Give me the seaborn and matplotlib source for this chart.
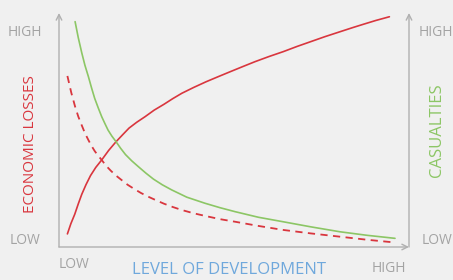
import matplotlib
matplotlib.use("Agg")
import matplotlib.pyplot as plt
import seaborn as sns

# values, axes run 0..100 on both scales
losses_x = [2.4, 3.4, 4.5, 5.5, 6.5, 7.7, 9.0, 10.5, 12.2, 14.2, 16.3, 18.2, 20.0, 22.2, 24.6, 27.2, 30.0, 32.5, 35.1,
            38.5, 42.0, 45.5, 48.9, 52.5, 56.0, 60.0, 64.1, 68.0, 72.0, 76.0, 80.3, 84.0, 87.0, 90.5, 94.4]
losses_y = [5.6, 10.0, 14.0, 18.4, 22.5, 26.6, 30.5, 34.0, 37.2, 41.3, 45.0, 48.0, 50.8, 53.3, 55.7, 58.5, 61.0, 63.4, 65.7,
            68.2, 70.6, 72.8, 74.9, 77.1, 79.2, 81.4, 83.5, 85.7, 87.8, 89.9, 92.0, 93.8, 95.2, 96.8, 98.4]

casualties_x = [4.6, 5.5, 6.5, 7.4, 8.4, 9.3, 10.2, 11.2, 12.2, 13.1, 14.0, 15.1, 16.3, 17.6, 19.0, 20.8, 22.7, 24.8,
                27.0, 29.5, 32.2, 36.5, 41.7, 46.0, 50.3, 57.0, 64.0, 72.0, 80.3, 88.0, 96.0]
casualties_y = [96.3, 89.5, 83.0, 77.7, 72.8, 68.0, 63.5, 59.5, 55.7, 52.8, 50.0, 47.4, 45.0, 42.2, 39.5, 36.8, 34.3, 31.6,
                29.0, 26.6, 24.4, 21.3, 18.7, 16.8, 15.1, 12.7, 10.8, 8.6, 6.5, 5.0, 3.7]

dashed_x = [2.4, 3.5, 4.6, 5.5, 6.5, 7.4, 8.4, 9.3, 10.2, 11.2, 12.2, 13.4, 14.8, 16.3, 17.9, 19.6, 21.5, 23.4, 25.5,
            27.7, 30.0, 32.5, 35.1, 38.5, 42.0, 46.0, 50.3, 57.0, 64.0, 72.0, 80.3, 88.0, 95.5]
dashed_y = [73.1, 66.0, 60.0, 55.8, 52.0, 48.7, 45.7, 43.2, 41.0, 39.0, 37.2, 34.8, 32.6, 30.5, 28.6, 26.6, 24.8, 23.1, 21.5,
            20.0, 18.5, 17.1, 15.8, 14.4, 13.2, 11.9, 10.8, 9.0, 7.3, 5.8, 4.4, 3.1, 2.0]

RED = "#d9363e"
GREEN = "#8cc665"
BLUE = "#6fa8dc"
GREY = "#a3a3a3"
BG = "#f0f0f0"

sns.set_style("white")
plt.rcParams["font.family"] = ["Open Sans", "DejaVu Sans"]

fig = plt.figure(figsize=(4.53, 2.80), dpi=100, facecolor=BG)
ax = fig.add_axes([59 / 453, 33 / 280, 350 / 453, 234 / 280])
ax.set_facecolor(BG)

sns.lineplot(x=losses_x, y=losses_y, color=RED, linewidth=1.2, ax=ax, sort=False)
sns.lineplot(x=casualties_x, y=casualties_y, color=GREEN, linewidth=1.2, ax=ax, sort=False)
sns.lineplot(x=dashed_x, y=dashed_y, color=RED, linewidth=1.3, linestyle=(0, (4, 3)), ax=ax, sort=False)

ax.set_xlim(0, 100)
ax.set_ylim(0, 100)
ax.set_xticks([])
ax.set_yticks([])
for s in ax.spines.values():
    s.set_visible(False)

# axis arrows
arrow = dict(arrowstyle="->", color="#b0b0b0", lw=1.0, shrinkA=0, shrinkB=0, mutation_scale=10)
ax.annotate("", xy=(0, 1), xytext=(0, 0), xycoords="axes fraction", arrowprops=arrow)
ax.annotate("", xy=(1, 1), xytext=(1, 0), xycoords="axes fraction", arrowprops=arrow)
ax.annotate("", xy=(1, 0), xytext=(0, 0), xycoords="axes fraction", arrowprops=arrow)

# labels in pixel positions of the figure
def put(x, y, s, **kw):
    fig.text(x / 453, 1 - y / 280, s, ha="center", va="center", **kw)

put(25, 33, "HIGH", color=GREY, fontsize=10)
put(25, 241, "LOW", color=GREY, fontsize=10)
put(436, 33, "HIGH", color=GREY, fontsize=10)
put(437, 241, "LOW", color=GREY, fontsize=10)
put(74, 264, "LOW", color=GREY, fontsize=10)
put(389, 269, "HIGH", color=GREY, fontsize=10)
put(229, 270, "LEVEL OF DEVELOPMENT", color=BLUE, fontsize=12)
put(30, 144, "ECONOMIC LOSSES", color=RED, fontsize=11, rotation=90)
put(437, 130, "CASUALTIES", color=GREEN, fontsize=12, rotation=90)

fig.savefig("out.png", dpi=100, facecolor=BG)
